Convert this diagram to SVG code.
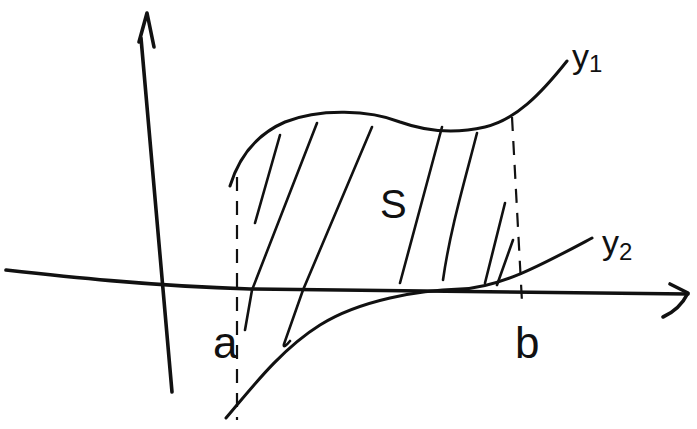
<svg xmlns="http://www.w3.org/2000/svg" width="697" height="429" viewBox="0 0 697 429">
<style>
.ink{fill:none;stroke:#111;stroke-width:3;stroke-linecap:round;stroke-linejoin:round}
.axis{fill:none;stroke:#111;stroke-width:3.6;stroke-linecap:round;stroke-linejoin:round}
.thin{fill:none;stroke:#111;stroke-width:2.6;stroke-linecap:round}
.dash{fill:none;stroke:#111;stroke-width:2.2;stroke-dasharray:14 10}
.lbl{font-family:"Liberation Sans",Arial,sans-serif;fill:#111}
</style>
<rect width="697" height="429" fill="#fff"/>
<g id="axes">
<path class="axis" d="M172,392 L141,38"/>
<path class="axis" d="M139,42 L147,13 L154,47"/>
<path class="axis" d="M6,270 C60,276 150,286 250,289 L688,294"/>
<path class="axis" d="M670,284 L688,293 C682,305 672,313 663,317"/>
</g>
<g id="curves">
<path id="y1" class="ink" d="M230,186 C238,160 255,135 285,122 C320,108 370,110 400,122 C425,131 455,134 485,127 C515,120 540,95 567,61"/>
<path id="y2" class="ink" d="M226,418 C250,390 280,350 320,325 C360,300 420,290 460,289 C500,288 545,263 592,238"/>
</g>
<g id="bounds">
<path class="dash" d="M237,177 L237,420"/>
<path class="dash" d="M512,117 L522,302"/>
</g>
<g id="hatch">
<path class="thin" d="M280,135 L255,223"/>
<path class="thin" d="M317,123 L252,290 L245,330"/>
<path class="thin" d="M372,127 L303,290 L284,344 C283,348 286,346 290,341"/>
<path class="thin" d="M442,127 L400,283"/>
<path class="thin" d="M477,133 C465,180 450,230 443,280"/>
<path class="thin" d="M505,203 L485,283"/>
<path class="thin" d="M513,240 L497,285"/>
</g>
<g id="labels">
<text class="lbl" x="380" y="218" font-size="40">S</text>
<text class="lbl" x="213" y="358" font-size="44">a</text>
<text class="lbl" x="515" y="358" font-size="44">b</text>
<text class="lbl" x="572" y="68" font-size="34">y<tspan font-size="24" dy="4">1</tspan></text>
<text class="lbl" x="602" y="254" font-size="34">y<tspan font-size="24" dy="6">2</tspan></text>
</g>
</svg>
